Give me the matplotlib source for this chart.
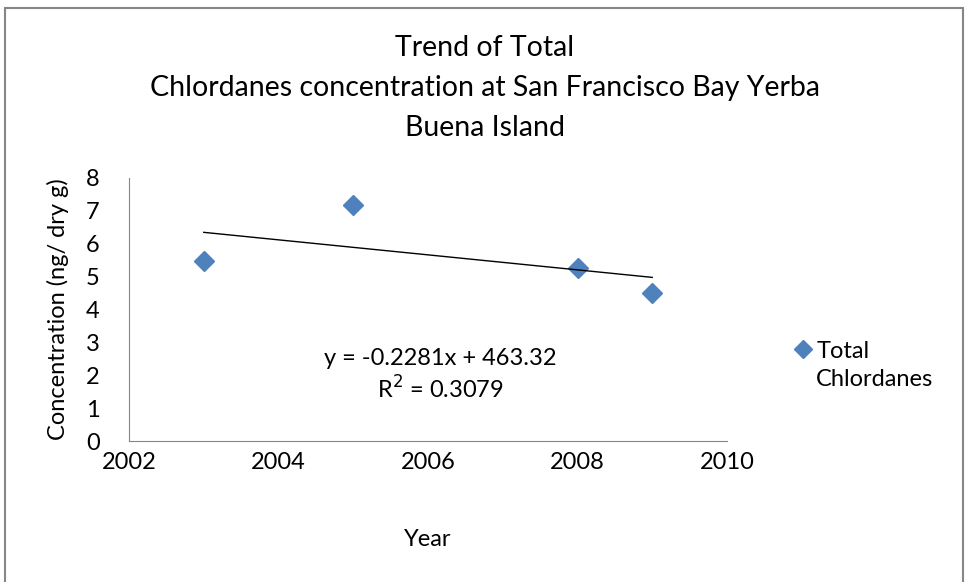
import numpy as np
import matplotlib
matplotlib.use("Agg")
import matplotlib.pyplot as plt
from matplotlib.patches import Rectangle

plt.rcParams['font.family'] = ['Lato', 'DejaVu Sans']

# data
years = [2003, 2005, 2008, 2009]
chlordanes = [5.48, 7.18, 5.25, 4.51]
x_ticks = [2002, 2004, 2006, 2008, 2010]
y_ticks = [0, 1, 2, 3, 4, 5, 6, 7, 8]

blue = '#4F81BD'
W, H = 966, 582

fig = plt.figure(figsize=(W / 100, H / 100), dpi=100)

# outer chart frame
fig.patches.append(Rectangle((5 / W, -0.05), 958 / W, 1.05 - 8 / H,
                             transform=fig.transFigure, fill=False,
                             edgecolor='#868686', linewidth=1.5))

ax = fig.add_axes([129 / W, 1 - 441 / H, (727 - 129) / W, (441 - 178) / H])

ax.plot(years, chlordanes, linestyle='none', marker='D', markersize=10,
        color=blue, markeredgecolor=blue, label='Total\nChlordanes')

# linear trendline
slope, intercept = np.polyfit(years, chlordanes, 1)
xs = np.array([years[0], years[-1]])
ax.plot(xs, slope * xs + intercept, color='black', linewidth=1)

ax.set_xlim(2002, 2010)
ax.set_ylim(0, 8)
ax.set_xticks(x_ticks)
ax.set_yticks(y_ticks)
ax.tick_params(length=0, labelsize=17)
ax.tick_params(axis='x', pad=8)
ax.tick_params(axis='y', pad=21)
for s in ['top', 'right']:
    ax.spines[s].set_visible(False)
for s in ['left', 'bottom']:
    ax.spines[s].set_color('#868686')

ax.set_xlabel('Year', fontsize=17, labelpad=40)
ax.set_ylabel('Concentration (ng/ dry g)', fontsize=17, labelpad=12)

fig.text(485 / W, 1 - 88 / H,
         'Trend of Total\nChlordanes concentration at San Francisco Bay Yerba\nBuena Island',
         ha='center', va='center', fontsize=20.5, linespacing=1.68)

ax.text(0.52, 0.25, 'y = -0.2281x + 463.32\nR$^2$ = 0.3079',
        transform=ax.transAxes, ha='center', va='center', fontsize=17,
        linespacing=1.3)

leg = fig.legend(loc='upper left', bbox_to_anchor=(782 / W, 1 - 329 / H),
                 frameon=False, fontsize=17, handletextpad=0.15,
                 handlelength=0.8, markerscale=0.9, borderpad=0)
for t in leg.get_texts():
    t.set_linespacing(1.4)
# marker next to first line, like Excel
for row in leg._legend_handle_box.get_children()[0].get_children():
    row.align = 'top'

fig.savefig('out.png', dpi=100)
